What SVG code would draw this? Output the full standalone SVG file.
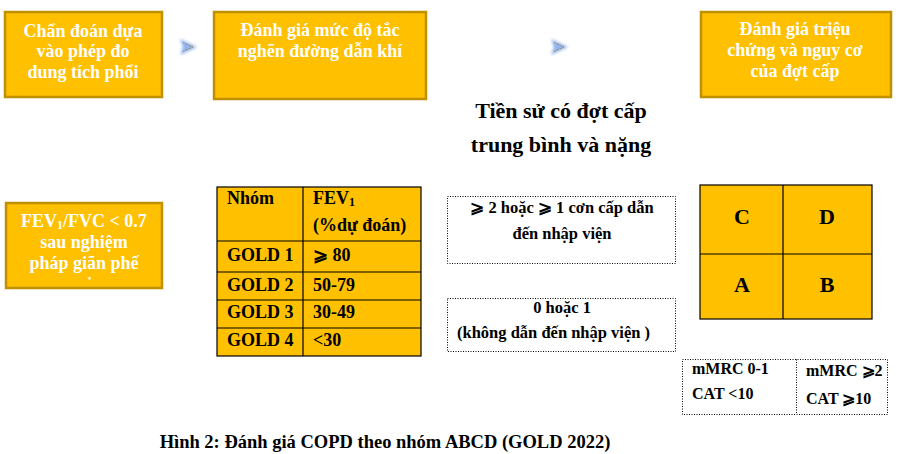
<svg xmlns="http://www.w3.org/2000/svg" width="898" height="454" viewBox="0 0 898 454">
<defs>
<style>
.box{fill:#FFC000;stroke:#BF9000;stroke-width:2.5}
.wt{font-family:"Liberation Serif","DejaVu Serif",serif;font-weight:bold;fill:#fff;font-size:18px;text-anchor:middle}
.bt{font-family:"Liberation Serif","DejaVu Serif",serif;font-weight:bold;fill:#000}
.tbl{fill:#FFC000;stroke:#000;stroke-width:1.2}
.ln{stroke:#000;stroke-width:1.2;fill:none}
.dot{fill:#fff;stroke:#000;stroke-width:1;stroke-dasharray:1 1.5}
</style>
<filter id="blur" x="-50%" y="-50%" width="200%" height="200%"><feGaussianBlur stdDeviation="1.6"/></filter>
<clipPath id="clipF"><rect x="7" y="204" width="154" height="77"/></clipPath>
<g id="chev">
<path d="M0,0 L17,8 L0,16 L3,8 Z" fill="#8FB3F0" filter="url(#blur)"/>
<path d="M3,3.5 L13,8 L3,12.5" fill="none" stroke="#A08040" stroke-width="1" stroke-dasharray="1 0.6"/>
</g>
</defs>

<g id="n1">
<rect class="box" x="5" y="12" width="157" height="85"/>
<text class="wt" x="83" y="37">Chẩn đoán dựa</text>
<text class="wt" x="83" y="57">vào phép đo</text>
<text class="wt" x="83" y="78">dung tích phổi</text>
</g>
<g id="n2">
<rect class="box" x="214" y="12" width="212" height="87"/>
<text class="wt" x="320" y="36">Đánh giá mức độ tắc</text>
<text class="wt" x="320" y="57">nghẽn đường dẫn khí</text>
</g>
<g id="n3">
<rect class="box" x="701" y="12" width="190" height="85"/>
<text class="wt" x="795" y="35">Đánh giá triệu</text>
<text class="wt" x="795" y="56">chứng và nguy cơ</text>
<text class="wt" x="795" y="77">của đợt cấp</text>
</g>

<g id="connectors">
<use href="#chev" x="180" y="39"/>
<use href="#chev" x="551" y="39"/>
</g>

<g id="title">
<text class="bt" x="561" y="118" text-anchor="middle" font-size="22">Tiền sử có đợt cấp</text>
<text class="bt" x="561" y="152" text-anchor="middle" font-size="22">trung bình và nặng</text>
</g>

<g id="n4">
<rect class="box" x="6" y="203" width="156" height="85"/>
<g clip-path="url(#clipF)">
<text class="wt" x="84" y="227">FEV<tspan font-size="12" dy="2">1</tspan><tspan dy="-2">/FVC &lt; 0.7</tspan></text>
<text class="wt" x="84" y="248">sau nghiệm</text>
<text class="wt" x="84" y="269">pháp giãn phế</text>
<text class="wt" x="84" y="290">quản</text>
</g>
</g>

<g id="table">
<rect class="tbl" x="217" y="187" width="204" height="169"/>
<path class="ln" d="M303,187 V356 M217,241 H421 M217,272 H421 M217,300 H421 M217,328 H421"/>
<g class="bt" font-size="18">
<text x="227" y="204">Nhóm</text>
<text x="313" y="204">FEV<tspan font-size="12" dy="2">1</tspan></text>
<text x="313" y="231">(%dự đoán)</text>
<text x="227" y="261">GOLD 1</text>
<text x="313" y="261">⩾ 80</text>
<text x="227" y="291">GOLD 2</text>
<text x="313" y="291">50-79</text>
<text x="227" y="318">GOLD 3</text>
<text x="313" y="318">30-49</text>
<text x="227" y="346">GOLD 4</text>
<text x="313" y="346">&lt;30</text>
</g>
</g>

<g id="n5">
<rect class="dot" x="447.5" y="196.5" width="228" height="67"/>
<text class="bt" x="562" y="213" text-anchor="middle" font-size="16.5">⩾ 2 hoặc ⩾ 1 cơn cấp dẫn</text>
<text class="bt" x="562" y="239" text-anchor="middle" font-size="16.5">đến nhập viện</text>
</g>
<g id="n6">
<rect class="dot" x="447.5" y="298.5" width="228" height="53"/>
<text class="bt" x="562" y="313" text-anchor="middle" font-size="16.5">0 hoặc 1</text>
<text class="bt" x="457" y="338" font-size="16.5">(không dẫn đến nhập viện )</text>
</g>

<g id="grid">
<rect class="tbl" x="700" y="185" width="172" height="134"/>
<path class="ln" d="M783,185 V319 M700,254 H872"/>
<g class="bt" font-size="22" text-anchor="middle">
<text x="742" y="224">C</text>
<text x="827" y="224">D</text>
<text x="742" y="292">A</text>
<text x="827" y="292">B</text>
</g>
</g>

<g id="n7">
<rect class="dot" x="682.5" y="359.5" width="205" height="55"/>
<line class="dot" x1="796.5" y1="359.5" x2="796.5" y2="414.5"/>
<g class="bt" font-size="16">
<text x="692" y="374">mMRC 0-1</text>
<text x="692" y="399">CAT &lt;10</text>
<text x="806" y="376">mMRC ⩾2</text>
<text x="806" y="404">CAT ⩾10</text>
</g>
</g>

<g id="caption">
<text class="bt" x="385" y="448" text-anchor="middle" font-size="18.5">Hình 2: Đánh giá COPD theo nhóm ABCD (GOLD 2022)</text>
</g>
</svg>
